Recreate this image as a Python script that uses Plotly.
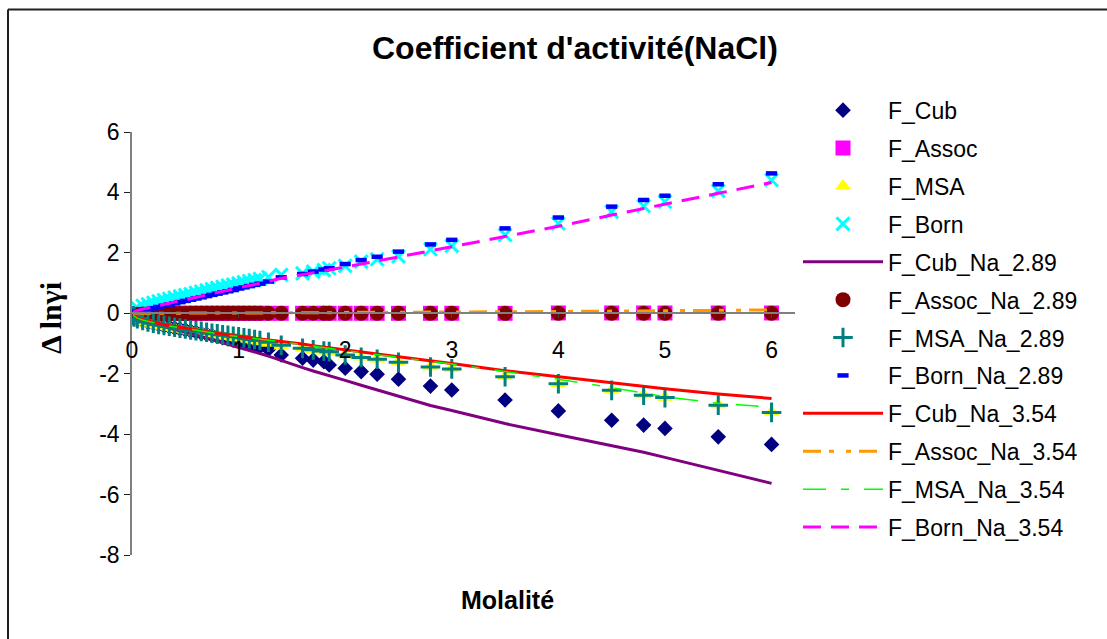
import plotly.graph_objects as go

# Molality (x) values
molalite = [0.01, 0.02, 0.05, 0.1, 0.15, 0.2, 0.25, 0.3, 0.35, 0.4, 0.45, 0.5, 0.55, 0.6, 0.65,
            0.7, 0.75, 0.8, 0.85, 0.9, 0.95, 1.0, 1.05, 1.1, 1.15, 1.2, 1.28, 1.4, 1.6, 1.7,
            1.8, 1.85, 2.0, 2.15, 2.3, 2.5, 2.8, 3.0, 3.5, 4.0, 4.5, 4.8, 5.0, 5.5, 6.0]

f_cub = [-0.09, -0.12, -0.18, -0.25, -0.30, -0.34, -0.38, -0.42, -0.45, -0.49, -0.52, -0.55, -0.59, -0.62, -0.66,
         -0.69, -0.73, -0.77, -0.81, -0.85, -0.89, -0.93, -0.97, -1.02, -1.06, -1.11, -1.20, -1.38, -1.49, -1.55,
         -1.60, -1.71, -1.82, -1.93, -2.02, -2.18, -2.41, -2.54, -2.87, -3.23, -3.54, -3.70, -3.81, -4.09, -4.34]

f_assoc = [-0.02, -0.02, -0.02, -0.02, -0.01, -0.01, -0.01, -0.01, -0.01, 0.0, 0.0, 0.0, 0.0, 0.0, 0.0,
           0.0, 0.0, 0.0, 0.0, 0.0, 0.0, 0.0, 0.0, 0.0, 0.0, 0.0, 0.0, 0.0, 0.0, 0.0,
           0.0, 0.0, 0.0, 0.0, 0.0, 0.0, 0.0, 0.0, 0.0, 0.01, 0.01, 0.01, 0.01, 0.01, 0.01]

f_msa = [-0.12, -0.16, -0.22, -0.29, -0.33, -0.37, -0.41, -0.44, -0.47, -0.50, -0.53, -0.56, -0.59, -0.62, -0.64,
         -0.67, -0.70, -0.72, -0.75, -0.77, -0.80, -0.82, -0.85, -0.88, -0.91, -0.94, -0.99, -1.08, -1.16, -1.21,
         -1.25, -1.27, -1.37, -1.45, -1.51, -1.61, -1.77, -1.83, -2.09, -2.32, -2.54, -2.70, -2.78, -3.03, -3.27]

f_born = [0.08, 0.12, 0.18, 0.25, 0.30, 0.35, 0.40, 0.44, 0.48, 0.52, 0.56, 0.60, 0.64, 0.68, 0.72,
          0.76, 0.80, 0.84, 0.88, 0.92, 0.95, 0.99, 1.03, 1.07, 1.10, 1.14, 1.20, 1.27, 1.32, 1.38,
          1.43, 1.49, 1.57, 1.71, 1.79, 1.88, 2.12, 2.23, 2.59, 2.97, 3.36, 3.55, 3.69, 4.05, 4.41]

f_cub_na_289 = [-0.07, -0.10, -0.17, -0.25, -0.31, -0.36, -0.41, -0.45, -0.50, -0.54, -0.58, -0.62, -0.67, -0.72, -0.77,
                -0.82, -0.87, -0.92, -0.97, -1.01, -1.06, -1.11, -1.16, -1.21, -1.27, -1.33, -1.42, -1.57, -1.80, -1.91,
                -2.02, -2.08, -2.22, -2.38, -2.53, -2.75, -3.05, -3.22, -3.65, -4.02, -4.38, -4.60, -4.77, -5.20, -5.63]

f_assoc_na_289 = [-0.03, -0.03, -0.03, -0.02, -0.02, -0.02, -0.02, -0.01, -0.01, -0.01, -0.01, -0.01, 0.0, 0.0, 0.0,
                  0.0, 0.0, 0.0, 0.0, 0.0, 0.0, 0.0, 0.0, 0.0, 0.0, 0.0, 0.0, 0.0, 0.0, 0.0,
                  0.0, 0.0, 0.0, 0.0, 0.0, 0.0, 0.0, 0.0, 0.0, 0.0, 0.0, 0.0, 0.0, 0.0, 0.0]

f_msa_na_289 = [-0.08, -0.12, -0.18, -0.24, -0.29, -0.33, -0.37, -0.40, -0.43, -0.46, -0.49, -0.52, -0.55, -0.58, -0.60,
                -0.63, -0.66, -0.68, -0.71, -0.73, -0.76, -0.78, -0.81, -0.84, -0.87, -0.90, -0.96, -1.06, -1.16, -1.21,
                -1.25, -1.27, -1.38, -1.46, -1.52, -1.62, -1.78, -1.84, -2.10, -2.33, -2.55, -2.71, -2.79, -3.04, -3.28]

f_born_na_289 = [0.02, 0.03, 0.05, 0.09, 0.13, 0.17, 0.21, 0.25, 0.29, 0.33, 0.37, 0.41, 0.45, 0.49, 0.53,
                 0.57, 0.61, 0.65, 0.69, 0.73, 0.77, 0.82, 0.86, 0.90, 0.94, 0.98, 1.05, 1.19, 1.30, 1.38,
                 1.45, 1.49, 1.63, 1.76, 1.87, 2.04, 2.28, 2.43, 2.81, 3.17, 3.53, 3.75, 3.89, 4.27, 4.63]

f_cub_na_354 = [-0.06, -0.09, -0.15, -0.21, -0.26, -0.30, -0.34, -0.38, -0.41, -0.44, -0.47, -0.50, -0.53, -0.56, -0.59,
                -0.62, -0.64, -0.67, -0.69, -0.72, -0.74, -0.76, -0.78, -0.80, -0.82, -0.84, -0.87, -0.92, -1.02, -1.07,
                -1.12, -1.14, -1.21, -1.28, -1.35, -1.44, -1.57, -1.66, -1.90, -2.10, -2.30, -2.42, -2.50, -2.67, -2.82]

f_assoc_na_354 = [0.0, 0.0, 0.0, 0.0, 0.0, 0.0, 0.0, 0.0, 0.0, 0.0, 0.0, 0.0, 0.0, 0.0, 0.0,
                  0.0, 0.0, 0.0, 0.0, 0.0, 0.0, 0.0, 0.0, 0.0, 0.0, 0.0, 0.01, 0.01, 0.02, 0.02,
                  0.02, 0.02, 0.03, 0.03, 0.03, 0.04, 0.04, 0.05, 0.05, 0.06, 0.07, 0.08, 0.09, 0.10, 0.11]

f_msa_na_354 = [-0.07, -0.10, -0.16, -0.22, -0.27, -0.31, -0.35, -0.39, -0.42, -0.45, -0.48, -0.51, -0.54, -0.57, -0.60,
                -0.63, -0.65, -0.68, -0.70, -0.73, -0.75, -0.77, -0.79, -0.81, -0.83, -0.85, -0.88, -0.94, -1.04, -1.09,
                -1.14, -1.16, -1.23, -1.30, -1.37, -1.46, -1.59, -1.68, -1.93, -2.18, -2.46, -2.63, -2.76, -2.98, -3.11]

f_born_na_354 = [0.03, 0.05, 0.09, 0.14, 0.18, 0.22, 0.26, 0.30, 0.34, 0.38, 0.42, 0.46, 0.50, 0.54, 0.58,
                 0.62, 0.66, 0.70, 0.74, 0.78, 0.81, 0.85, 0.88, 0.92, 0.95, 0.99, 1.05, 1.16, 1.28, 1.34,
                 1.40, 1.43, 1.53, 1.63, 1.73, 1.86, 2.06, 2.20, 2.54, 2.88, 3.25, 3.46, 3.60, 3.97, 4.33]

x_ticks = [0, 1, 2, 3, 4, 5, 6]
y_ticks = [-8, -6, -4, -2, 0, 2, 4, 6]

fig = go.Figure()


def add_markers(name, y, symbol, color, size, line_color=None, line_width=0):
    fig.add_trace(go.Scatter(
        x=molalite, y=y, name=name, mode="markers", legendgroup=name,
        marker=dict(symbol=symbol, color=color, size=size,
                    line=dict(color=line_color or color, width=line_width)),
    ))


def add_line(name, y, color, width, dash):
    fig.add_trace(go.Scatter(
        x=molalite, y=y, name=name, mode="lines", legendgroup=name,
        line=dict(color=color, width=width, dash=dash),
    ))


add_markers("F_Cub", f_cub, "diamond", "#000080", 12)
add_markers("F_Assoc", f_assoc, "square", "#FF00FF", 15)
add_markers("F_MSA", f_msa, "triangle-up", "#FFFF00", 14)
add_markers("F_Born", f_born, "x-thin", "#00FFFF", 13, "#00FFFF", 3)
add_line("F_Cub_Na_2.89", f_cub_na_289, "#800080", 3, "solid")
add_markers("F_Assoc_Na_2.89", f_assoc_na_289, "circle", "#800000", 15)
add_markers("F_MSA_Na_2.89", f_msa_na_289, "cross-thin", "#008080", 14, "#008080", 3)
add_markers("F_Born_Na_2.89", f_born_na_289, "line-ew", "#0000FF", 8, "#0000FF", 4.5)
add_line("F_Cub_Na_3.54", f_cub_na_354, "#FF0000", 3, "solid")
add_line("F_Assoc_Na_3.54", f_assoc_na_354, "#FF9900", 3, "18px,8px,5px,12px,5px,8px")
add_line("F_MSA_Na_3.54", f_msa_na_354, "#00FF00", 1.5, "23px,15px,8px,15px")
add_line("F_Born_Na_3.54", f_born_na_354, "#FF00FF", 3, "18px,10px")

L, T, W, H = 132, 132, 663, 423
FW, FH = 1107, 639


def px_x(p):
    return (p - L) / W


def px_y(p):
    return (T + H - p) / H


fig.update_layout(
    width=FW, height=FH,
    margin=dict(l=L, r=FW - L - W, t=T, b=FH - T - H),
    paper_bgcolor="white", plot_bgcolor="white",
    font=dict(family="Liberation Sans, Arial, sans-serif", color="black", size=23),
    showlegend=True,
    legend=dict(
        x=px_x(798), xanchor="left",
        y=px_y(88.7), yanchor="top",
        font=dict(size=23, family="Liberation Sans, Arial, sans-serif"),
        itemwidth=80, tracegroupgap=5, bgcolor="rgba(0,0,0,0)", maxheight=560,
    ),
    xaxis=dict(
        range=[0, 6.22], tickvals=x_ticks, ticktext=[str(v) for v in x_ticks],
        showgrid=False, zeroline=False, showline=True, linecolor="#808080", linewidth=1.5,
        ticks="outside", ticklen=4, tickcolor="#404040", anchor="free", position=8 / 14,
        tickfont=dict(size=23), ticklabelstandoff=12,
    ),
    yaxis=dict(
        range=[-8, 6], tickvals=y_ticks, ticktext=[str(v) for v in y_ticks],
        showgrid=False, zeroline=False, showline=True, linecolor="#808080", linewidth=1.5,
        ticks="outside", ticklen=6, tickcolor="#202020", tickfont=dict(size=23),
    ),
    annotations=[
        dict(text="<b>Coefficient d'activité(NaCl)</b>", xref="paper", yref="paper",
             x=px_x(575), y=px_y(48), xanchor="center", yanchor="middle",
             showarrow=False, font=dict(size=32)),
        dict(text="<b>Molalité</b>", xref="paper", yref="paper",
             x=px_x(507), y=px_y(600), xanchor="center", yanchor="middle",
             showarrow=False, font=dict(size=25)),
        dict(text="<b>Δ lnγi</b>", xref="paper", yref="paper", textangle=-90,
             x=px_x(50), y=px_y(318), xanchor="center", yanchor="middle",
             showarrow=False, font=dict(size=30, family="Liberation Serif, Times New Roman, serif")),
    ],
    shapes=[
        dict(type="line", xref="paper", yref="paper",
             x0=px_x(8), x1=px_x(1300), y0=px_y(9.5), y1=px_y(9.5),
             line=dict(color="#202020", width=2), layer="below"),
        dict(type="line", xref="paper", yref="paper",
             x0=px_x(8), x1=px_x(8), y0=px_y(9.5), y1=px_y(800),
             line=dict(color="#202020", width=2), layer="below"),
    ],
)

fig.write_html("out.html", config={"displayModeBar": False},
               post_script="document.body.style.margin='0';")
